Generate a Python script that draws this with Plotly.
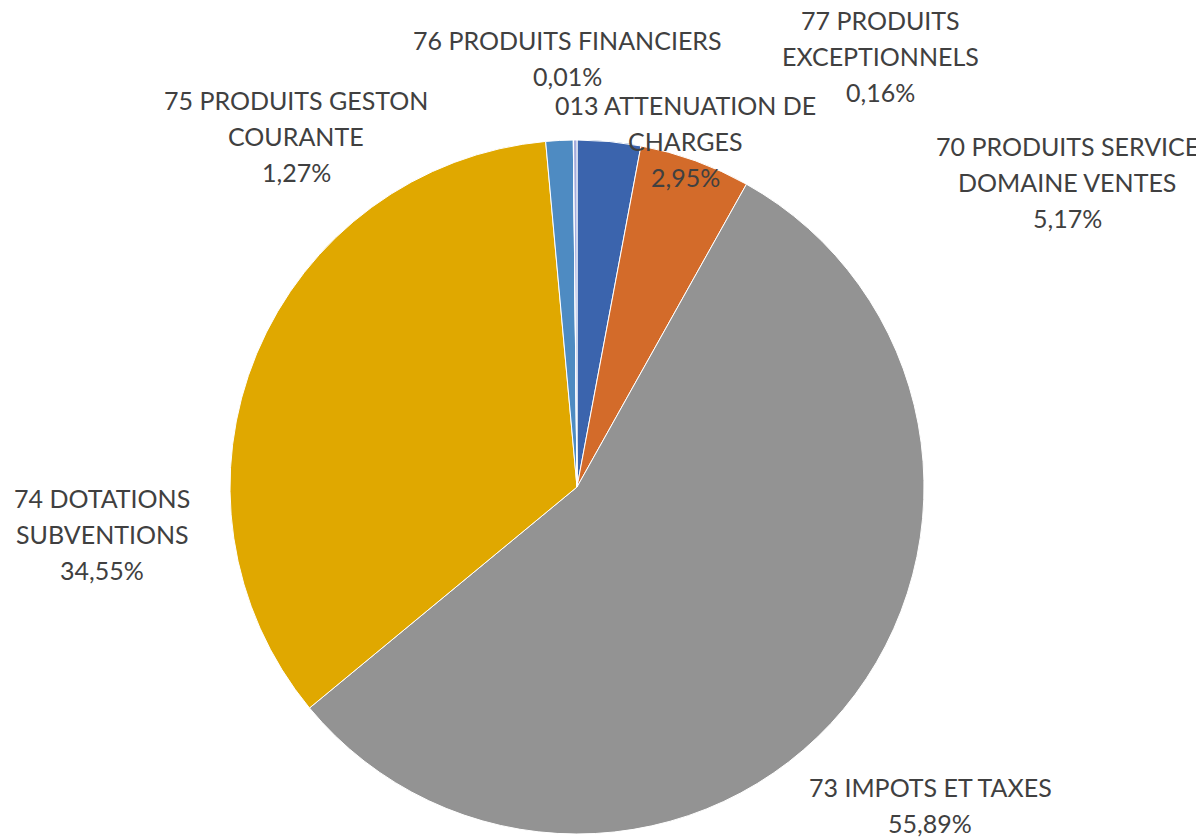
import plotly.graph_objects as go

# Data
categories = [
    "013 ATTENUATION DE CHARGES",
    "70 PRODUITS SERVICE DOMAINE VENTES",
    "73 IMPOTS ET TAXES",
    "74 DOTATIONS SUBVENTIONS",
    "75 PRODUITS GESTON COURANTE",
    "76 PRODUITS FINANCIERS",
    "77 PRODUITS EXCEPTIONNELS",
]
values = [2.95, 5.17, 55.89, 34.55, 1.27, 0.01, 0.16]
label_lines = [
    ["013 ATTENUATION DE", "CHARGES"],
    ["70 PRODUITS SERVICE", "DOMAINE VENTES"],
    ["73 IMPOTS ET TAXES"],
    ["74 DOTATIONS", "SUBVENTIONS"],
    ["75 PRODUITS GESTON", "COURANTE"],
    ["76 PRODUITS FINANCIERS"],
    ["77 PRODUITS", "EXCEPTIONNELS"],
]

# Styles
colors = ["#3B64AD", "#D36B2A", "#939393", "#E0A800", "#4E8BC2", "#7E95CC", "#A3ACDD"]
# label block centres in page pixels (x, y of first line)
label_pos = [
    (685, 105), (1067, 146), (930, 787), (102, 498), (296, 100), (567, 40), (880, 20),
]

W, H = 1204, 837
OFF = 8  # default page body margin
cx, cy, r = 577 - OFF, 487 - OFF, 347

fig = go.Figure(go.Pie(
    labels=categories,
    values=values,
    sort=False,
    direction="clockwise",
    rotation=0,
    marker=dict(colors=colors, line=dict(color="white", width=1)),
    textinfo="none",
    hoverinfo="label+percent",
    domain=dict(x=[(cx - r) / W, (cx + r) / W], y=[(H - (cy + r)) / H, (H - (cy - r)) / H]),
    showlegend=False,
))

def fmt(v):
    return ("%.2f" % v).replace(".", ",") + "%"

LINE = 36
for lines, v, (px, py) in zip(label_lines, values, label_pos):
    all_lines = lines + [fmt(v)]
    for i, t in enumerate(all_lines):
        fig.add_annotation(
            x=(px - OFF) / W, y=1 - (py - OFF + i * LINE) / H,
            xref="paper", yref="paper",
            text=t, showarrow=False,
            xanchor="center", yanchor="middle",
            font=dict(family="Lato", size=25, color="#404040"),
        )

fig.update_layout(
    width=W, height=H,
    margin=dict(l=0, r=0, t=0, b=0),
    paper_bgcolor="white",
    plot_bgcolor="white",
)

fig.write_html("out.html")
